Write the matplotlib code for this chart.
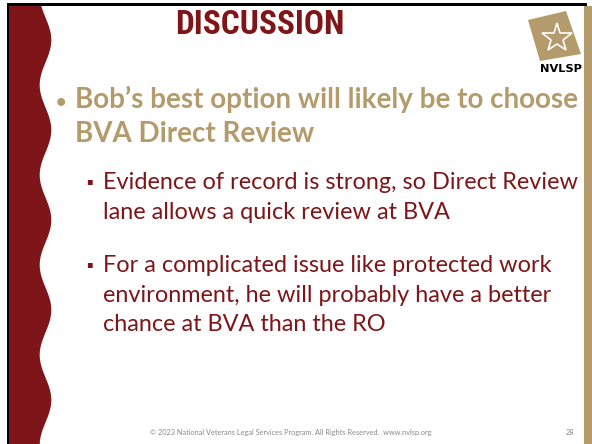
import numpy as np
import matplotlib
matplotlib.use("Agg")
import matplotlib.pyplot as plt
from matplotlib.patches import Polygon, Rectangle
from matplotlib import font_manager

RED = "#7E1619"
GOLD = "#B39B6C"

title = "DISCUSSION"
main_lines = ["Bob\u2019s best option will likely be to choose", "BVA Direct Review"]
sub1_lines = ["Evidence of record is strong, so Direct Review", "lane allows a quick review at BVA"]
sub2_lines = ["For a complicated issue like protected work",
              "environment, he will probably have a better",
              "chance at BVA than the RO"]
footer = "\u00a9 2023 National Veterans Legal Services Program. All Rights Reserved.  www.nvlsp.org"
page = "28"

W, H = 592, 444
fig = plt.figure(figsize=(W / 100, H / 100), dpi=100)
ax = fig.add_axes([0, 0, 1, 1])
ax.set_xlim(0, W)
ax.set_ylim(H, 0)
ax.axis("off")

# borders
ax.add_patch(Rectangle((7, 3), 580, 3, color="black", lw=0))
ax.add_patch(Rectangle((7, 3), 2.5, H, color="black", lw=0))
# right gold stripe
ax.add_patch(Rectangle((584, 6), 8, H, color=GOLD, lw=0))

# red wavy band
ys = np.linspace(6, H, 400)
xs = 45.5 + 5.8 * np.cos((ys - 40) / 90.0 * 2 * np.pi)
poly = np.vstack([[9, 6], np.column_stack([xs, ys]), [9, H]])
ax.add_patch(Polygon(poly, closed=True, color=RED, lw=0))

# title font: prefer a condensed face if one exists
names = {f.name for f in font_manager.fontManager.ttflist}
cond = [n for n in ["Liberation Sans Narrow", "DejaVu Sans Condensed", "Roboto Condensed"] if n in names]
if cond:
    ax.text(259.5, 34, title, color=RED, fontsize=24, fontweight="bold",
            family=cond[0], ha="center", va="baseline")
else:
    ax.text(259.5, 34, title, color=RED, fontsize=20.5, fontweight="black",
            family="Roboto", ha="center", va="baseline")

# logo
ax.add_patch(Polygon([[528, 20], [566, 11], [581, 54], [540, 61]], closed=True,
                     color=GOLD, lw=0))
ax.plot([557], [38], marker="*", ms=22, mfc="none", mec="white", mew=1.2)
ax.text(561, 69, "NVLSP", fontsize=8.2, fontweight="bold", family="DejaVu Sans",
        color="black", ha="center", va="center")

# main bullet
fs_main = 20
main_base = [108, 142]
ax.text(60.5, main_base[0], "\u2022", color=GOLD, fontsize=13, family="Lato",
        fontweight="bold", ha="center", va="baseline")
for b, t in zip(main_base, main_lines):
    ax.text(75, b, t, color=GOLD, fontsize=fs_main, family="Lato",
            fontweight="bold", ha="left", va="baseline")

# sub bullets
fs_sub = 16.9
def sub(lines, bases):
    ax.text(89.5, bases[0] - 5, "\u25aa", color=RED, fontsize=7, family="DejaVu Sans",
            ha="center", va="baseline")
    for b, t in zip(bases, lines):
        ax.text(103, b, t, color=RED, fontsize=fs_sub, family="Lato",
                ha="left", va="baseline")

sub(sub1_lines, [189, 218.5])
sub(sub2_lines, [272, 301.5, 331])

# footer
ax.text(291, 435, footer, color="#8A8A8A", fontsize=5.3, family="Lato",
        ha="center", va="baseline")
ax.text(570, 435, page, color="#8A8A8A", fontsize=5.3, family="Lato",
        ha="center", va="baseline")

fig.savefig("out.png", dpi=100)
